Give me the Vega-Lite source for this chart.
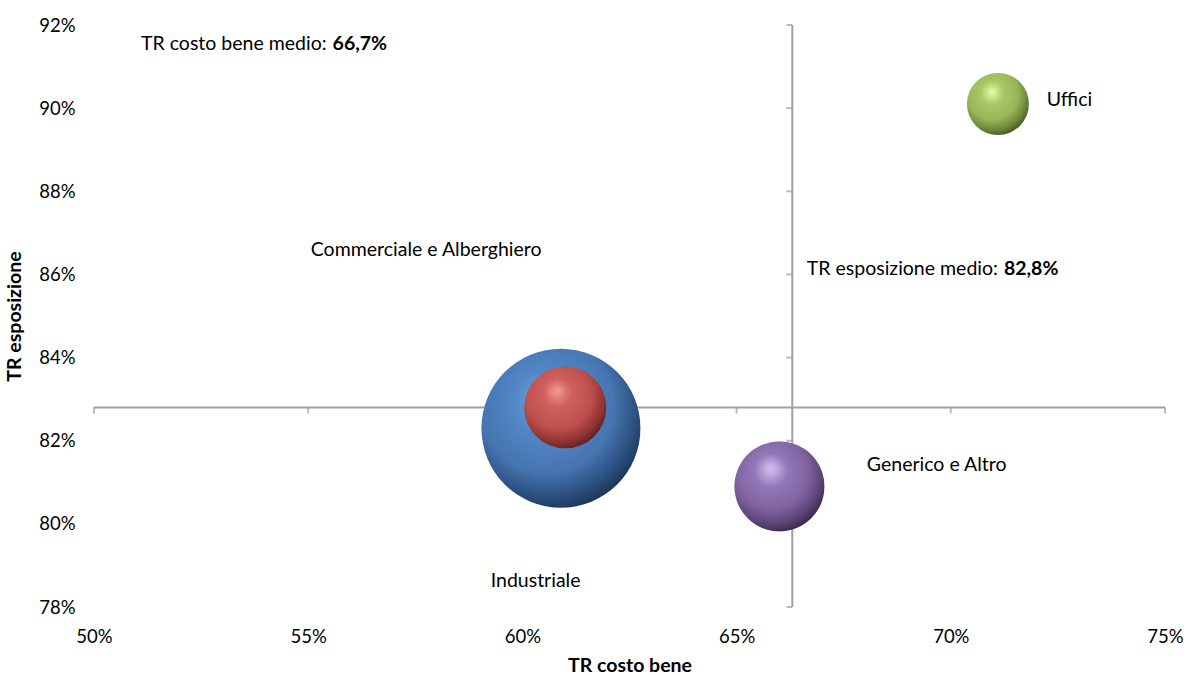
{
  "$schema": "https://vega.github.io/schema/vega-lite/v6.json",
  "width": 1071,
  "height": 582,
  "autosize": "none",
  "padding": {"left": 94, "top": 25, "right": 22, "bottom": 68},
  "background": "white",
  "config": {
    "font": "Lato",
    "view": {"stroke": null},
    "axis": {
      "grid": false, "domain": false, "ticks": false, "labelFlush": false, "labelOverlap": false,
      "labelFont": "Lato", "labelFontSize": 18.5, "labelColor": "#000000",
      "titleFont": "Lato", "titleFontSize": 19.5, "titleFontWeight": "bold", "titleColor": "#000000"
    }
  },
  "datasets": {
    "bolle": [
      {"settore": "Industriale", "tr_costo": 0.609, "tr_esposizione": 0.823, "peso": 6320},
      {"settore": "Commerciale e Alberghiero", "tr_costo": 0.610, "tr_esposizione": 0.828, "peso": 1681},
      {"settore": "Generico e Altro", "tr_costo": 0.660, "tr_esposizione": 0.809, "peso": 2025},
      {"settore": "Uffici", "tr_costo": 0.711, "tr_esposizione": 0.901, "peso": 961}
    ],
    "medie": [{"tr_costo_medio": 0.663, "tr_esposizione_medio": 0.828}],
    "tick_x": [{"v": 0.50}, {"v": 0.55}, {"v": 0.60}, {"v": 0.65}, {"v": 0.70}, {"v": 0.75}],
    "tick_y": [{"v": 0.78}, {"v": 0.80}, {"v": 0.82}, {"v": 0.84}, {"v": 0.86}, {"v": 0.88}, {"v": 0.90}, {"v": 0.92}],
    "etichette": [
      {"testo": "TR costo bene medio:", "x": 0.555, "y": 0.9154, "tipo": "destra"},
      {"testo": "66,7%", "x": 0.555, "y": 0.9154, "tipo": "grassetto"},
      {"testo": "TR esposizione medio:", "x": 0.7117, "y": 0.8613, "tipo": "destra"},
      {"testo": "82,8%", "x": 0.7117, "y": 0.8613, "tipo": "grassetto"},
      {"testo": "Uffici", "x": 0.7224, "y": 0.902, "tipo": "sinistra"},
      {"testo": "Commerciale e Alberghiero", "x": 0.5506, "y": 0.8659, "tipo": "sinistra"},
      {"testo": "Generico e Altro", "x": 0.6804, "y": 0.8142, "tipo": "sinistra"},
      {"testo": "Industriale", "x": 0.5926, "y": 0.7863, "tipo": "sinistra"}
    ]
  },
  "layer": [
    {
      "data": {"name": "medie"},
      "mark": {"type": "rule", "color": "#a0a0a0", "strokeWidth": 2},
      "encoding": {
        "x": {"field": "tr_costo_medio", "type": "quantitative", "scale": {"domain": [0.5, 0.75], "nice": false},
              "title": "TR costo bene",
              "axis": {"format": ".0%", "values": [0.5, 0.55, 0.6, 0.65, 0.7, 0.75], "labelPadding": 20, "titlePadding": 11}}
      }
    },
    {
      "data": {"name": "medie"},
      "mark": {"type": "rule", "color": "#a0a0a0", "strokeWidth": 2},
      "encoding": {
        "y": {"field": "tr_esposizione_medio", "type": "quantitative", "scale": {"domain": [0.78, 0.92], "nice": false},
              "title": "TR esposizione",
              "axis": {"format": ".0%", "values": [0.78, 0.8, 0.82, 0.84, 0.86, 0.88, 0.9, 0.92], "labelPadding": 19, "titlePadding": 14}}
      }
    },
    {
      "data": {"name": "tick_x"},
      "mark": {"type": "tick", "orient": "vertical", "size": 6, "thickness": 2, "yOffset": 3, "color": "#a0a0a0"},
      "encoding": {
        "x": {"field": "v", "type": "quantitative", "title": "TR costo bene"},
        "y": {"datum": 0.828, "type": "quantitative", "title": "TR esposizione"}
      }
    },
    {
      "data": {"name": "tick_y"},
      "mark": {"type": "tick", "orient": "horizontal", "size": 6, "thickness": 2, "xOffset": -3, "color": "#a0a0a0"},
      "encoding": {
        "y": {"field": "v", "type": "quantitative", "title": "TR esposizione"},
        "x": {"datum": 0.663, "type": "quantitative", "title": "TR costo bene"}
      }
    },
    {
      "data": {"name": "bolle"},
      "transform": [{"filter": "datum.settore === 'Industriale'"}],
      "mark": {"type": "circle", "opacity": 1,
        "fill": {"gradient": "radial", "x1": 0.4, "y1": 0.32, "r1": 0, "x2": 0.42, "y2": 0.38, "r2": 0.68,
          "stops": [{"offset": 0, "color": "#7aa6e0"}, {"offset": 0.3, "color": "#5286c6"}, {"offset": 0.62, "color": "#4675b0"}, {"offset": 0.82, "color": "#2c5080"}, {"offset": 1, "color": "#172c48"}]}},
      "encoding": {
        "x": {"field": "tr_costo", "type": "quantitative", "title": "TR costo bene"},
        "y": {"field": "tr_esposizione", "type": "quantitative", "title": "TR esposizione"},
        "size": {"field": "peso", "type": "quantitative", "scale": {"type": "linear", "domain": [0, 6320], "range": [0, 25280], "zero": true}, "legend": null}
      }
    },
    {
      "data": {"name": "bolle"},
      "transform": [{"filter": "datum.settore === 'Commerciale e Alberghiero'"}],
      "mark": {"type": "circle", "opacity": 1,
        "fill": {"gradient": "radial", "x1": 0.4, "y1": 0.3, "r1": 0, "x2": 0.42, "y2": 0.38, "r2": 0.68,
          "stops": [{"offset": 0, "color": "#f59a98"}, {"offset": 0.25, "color": "#d0605d"}, {"offset": 0.6, "color": "#bf4f4c"}, {"offset": 0.82, "color": "#8e3432"}, {"offset": 1, "color": "#4e1a19"}]}},
      "encoding": {
        "x": {"field": "tr_costo", "type": "quantitative", "title": "TR costo bene"},
        "y": {"field": "tr_esposizione", "type": "quantitative", "title": "TR esposizione"},
        "size": {"field": "peso", "type": "quantitative", "scale": {"type": "linear", "domain": [0, 6320], "range": [0, 25280], "zero": true}, "legend": null}
      }
    },
    {
      "data": {"name": "bolle"},
      "transform": [{"filter": "datum.settore === 'Generico e Altro'"}],
      "mark": {"type": "circle", "opacity": 1,
        "fill": {"gradient": "radial", "x1": 0.4, "y1": 0.3, "r1": 0, "x2": 0.42, "y2": 0.38, "r2": 0.68,
          "stops": [{"offset": 0, "color": "#d6c0f5"}, {"offset": 0.28, "color": "#9277b8"}, {"offset": 0.6, "color": "#7f63a1"}, {"offset": 0.82, "color": "#5a4276"}, {"offset": 1, "color": "#2c1f3c"}]}},
      "encoding": {
        "x": {"field": "tr_costo", "type": "quantitative", "title": "TR costo bene"},
        "y": {"field": "tr_esposizione", "type": "quantitative", "title": "TR esposizione"},
        "size": {"field": "peso", "type": "quantitative", "scale": {"type": "linear", "domain": [0, 6320], "range": [0, 25280], "zero": true}, "legend": null}
      }
    },
    {
      "data": {"name": "bolle"},
      "transform": [{"filter": "datum.settore === 'Uffici'"}],
      "mark": {"type": "circle", "opacity": 1,
        "fill": {"gradient": "radial", "x1": 0.4, "y1": 0.3, "r1": 0, "x2": 0.42, "y2": 0.38, "r2": 0.68,
          "stops": [{"offset": 0, "color": "#e8fba6"}, {"offset": 0.28, "color": "#a8c766"}, {"offset": 0.6, "color": "#98b657"}, {"offset": 0.82, "color": "#6c843a"}, {"offset": 1, "color": "#38461c"}]}},
      "encoding": {
        "x": {"field": "tr_costo", "type": "quantitative", "title": "TR costo bene"},
        "y": {"field": "tr_esposizione", "type": "quantitative", "title": "TR esposizione"},
        "size": {"field": "peso", "type": "quantitative", "scale": {"type": "linear", "domain": [0, 6320], "range": [0, 25280], "zero": true}, "legend": null}
      }
    },
    {
      "data": {"name": "etichette"},
      "transform": [{"filter": "datum.tipo === 'sinistra'"}],
      "mark": {"type": "text", "align": "left", "baseline": "middle", "font": "Lato", "fontSize": 19.5, "color": "#000000"},
      "encoding": {
        "x": {"field": "x", "type": "quantitative", "title": "TR costo bene"},
        "y": {"field": "y", "type": "quantitative", "title": "TR esposizione"},
        "text": {"field": "testo"}
      }
    },
    {
      "data": {"name": "etichette"},
      "transform": [{"filter": "datum.tipo === 'destra'"}],
      "mark": {"type": "text", "align": "right", "baseline": "middle", "dx": -3, "font": "Lato", "fontSize": 19.5, "color": "#000000"},
      "encoding": {
        "x": {"field": "x", "type": "quantitative", "title": "TR costo bene"},
        "y": {"field": "y", "type": "quantitative", "title": "TR esposizione"},
        "text": {"field": "testo"}
      }
    },
    {
      "data": {"name": "etichette"},
      "transform": [{"filter": "datum.tipo === 'grassetto'"}],
      "mark": {"type": "text", "align": "left", "baseline": "middle", "dx": 3, "font": "Lato", "fontSize": 19.5, "fontWeight": "bold", "color": "#000000"},
      "encoding": {
        "x": {"field": "x", "type": "quantitative", "title": "TR costo bene"},
        "y": {"field": "y", "type": "quantitative", "title": "TR esposizione"},
        "text": {"field": "testo"}
      }
    }
  ]
}
